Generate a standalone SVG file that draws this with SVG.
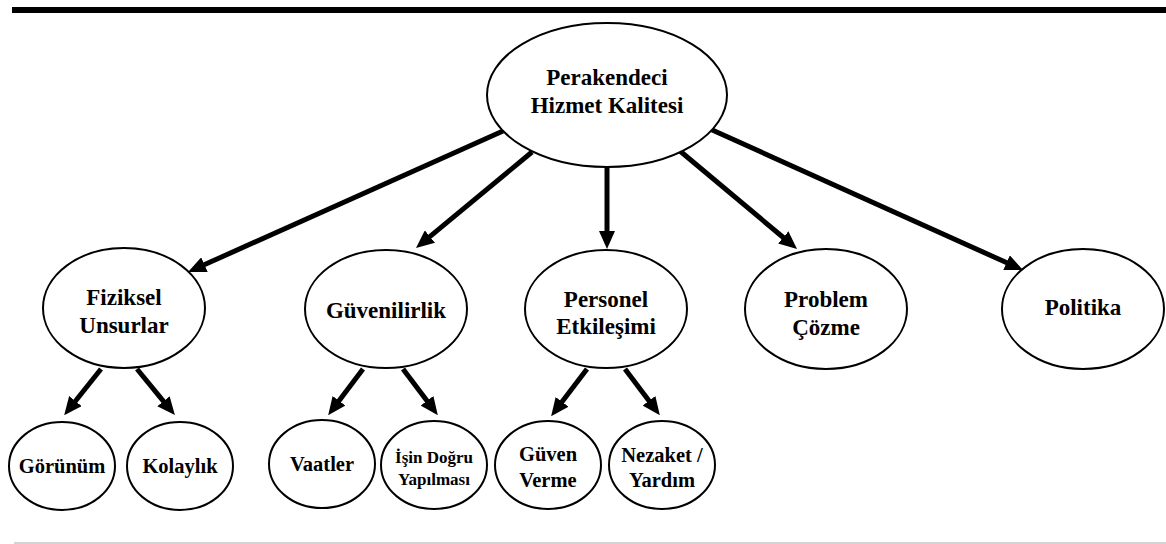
<svg xmlns="http://www.w3.org/2000/svg" width="1166" height="544" viewBox="0 0 1166 544">
  <style>
    .node ellipse { fill: #ffffff; stroke: #000000; stroke-width: 2; }
    .node text { font-family: "Liberation Serif", "Times New Roman", serif; font-weight: bold; fill: #000000; text-anchor: middle; }
    .l1 { font-size: 23px; }
    .l2 { font-size: 23px; }
    .l3 { font-size: 20.5px; }
    .l3s { font-size: 17px; }
    .edge { stroke: #000000; stroke-width: 5; fill: none; marker-end: url(#head); }
  </style>
  <defs>
    <marker id="head" viewBox="0 0 18 16" markerWidth="18" markerHeight="16" markerUnits="userSpaceOnUse" refX="4" refY="8" orient="auto">
      <path d="M0,0 L18,8 L0,16 z" fill="#000000"/>
    </marker>
  </defs>
  <rect width="1166" height="544" fill="#ffffff"/>

  <!-- page rules -->
  <rect x="12" y="7" width="1154" height="6" fill="#000000"/>
  <line x1="14" y1="543" x2="1166" y2="543" stroke="#aaaaaa" stroke-width="1.2"/>

  <!-- connectors -->
  <g id="connectors">
    <line class="edge" x1="503" y1="131" x2="200.8" y2="266.3"/>
    <line class="edge" x1="532" y1="152" x2="426.8" y2="239.1"/>
    <line class="edge" x1="607" y1="167" x2="607" y2="235"/>
    <line class="edge" x1="680" y1="151" x2="786.3" y2="240"/>
    <line class="edge" x1="710" y1="129" x2="1010.2" y2="264.3"/>
    <line class="edge" x1="101" y1="369" x2="72.9" y2="404.2"/>
    <line class="edge" x1="137" y1="369" x2="166" y2="404.3"/>
    <line class="edge" x1="363" y1="369" x2="336.6" y2="404"/>
    <line class="edge" x1="403" y1="369" x2="429.4" y2="404"/>
    <line class="edge" x1="587" y1="369" x2="559.6" y2="405"/>
    <line class="edge" x1="625" y1="369" x2="651.4" y2="404"/>
  </g>

  <g id="root" class="node">
    <ellipse cx="607" cy="95" rx="120" ry="72"/>
    <text class="l1" x="607" y="85">Perakendeci</text>
    <text class="l1" x="607" y="113">Hizmet Kalitesi</text>
  </g>

  <g id="fiziksel" class="node">
    <ellipse cx="124" cy="308" rx="81" ry="60"/>
    <text class="l2" x="124" y="305">Fiziksel</text>
    <text class="l2" x="124" y="333">Unsurlar</text>
  </g>
  <g id="guvenilirlik" class="node">
    <ellipse cx="386" cy="309" rx="81" ry="59"/>
    <text class="l2" x="386" y="318">Güvenilirlik</text>
  </g>
  <g id="personel" class="node">
    <ellipse cx="606" cy="309" rx="81" ry="59"/>
    <text class="l2" x="606" y="307">Personel</text>
    <text class="l2" x="606" y="334">Etkileşimi</text>
  </g>
  <g id="problem" class="node">
    <ellipse cx="826" cy="309" rx="81" ry="60"/>
    <text class="l2" x="826" y="307">Problem</text>
    <text class="l2" x="826" y="335">Çözme</text>
  </g>
  <g id="politika" class="node">
    <ellipse cx="1083" cy="309" rx="81" ry="60"/>
    <text class="l2" x="1083" y="315">Politika</text>
  </g>

  <g id="gorunum" class="node">
    <ellipse cx="62" cy="466" rx="53" ry="44"/>
    <text class="l3" x="62" y="473">Görünüm</text>
  </g>
  <g id="kolaylik" class="node">
    <ellipse cx="180" cy="466" rx="53" ry="44"/>
    <text class="l3" x="180" y="473">Kolaylık</text>
  </g>
  <g id="vaatler" class="node">
    <ellipse cx="322" cy="464" rx="53" ry="44"/>
    <text class="l3" x="322" y="471">Vaatler</text>
  </g>
  <g id="isin-dogru" class="node">
    <ellipse cx="434" cy="465" rx="53" ry="44"/>
    <text class="l3s" x="434" y="463">İşin Doğru</text>
    <text class="l3s" x="434" y="485">Yapılması</text>
  </g>
  <g id="guven-verme" class="node">
    <ellipse cx="548" cy="465" rx="53" ry="44"/>
    <text class="l3" x="548" y="461">Güven</text>
    <text class="l3" x="548" y="487">Verme</text>
  </g>
  <g id="nezaket" class="node">
    <ellipse cx="662" cy="465" rx="53" ry="44"/>
    <text class="l3" x="662" y="462">Nezaket /</text>
    <text class="l3" x="662" y="487">Yardım</text>
  </g>
</svg>
